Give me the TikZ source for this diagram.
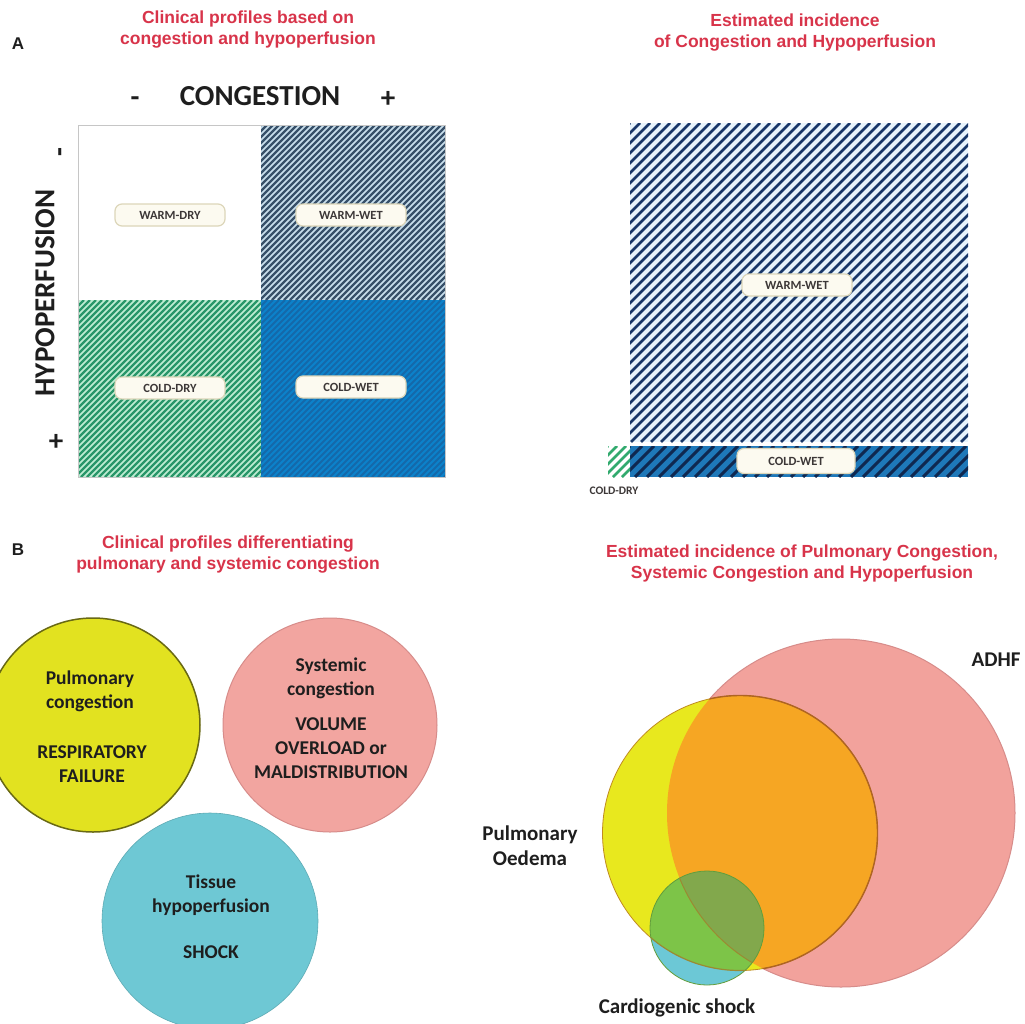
\documentclass[tikz,border=0pt]{standalone}
\usepackage{fontspec}
\setmainfont{Carlito}
\newfontfamily\arialf{Liberation Sans}
\definecolor{titlered}{RGB}{216,52,74}
\definecolor{txt}{RGB}{30,30,30}
\definecolor{cream}{RGB}{252,250,240}
\definecolor{tagline}{RGB}{220,214,185}
\definecolor{tagtext}{RGB}{60,55,55}
\definecolor{bgA}{RGB}{200,222,236}
\definecolor{stA}{RGB}{55,80,105}
\definecolor{bgG}{RGB}{190,236,210}
\definecolor{stG}{RGB}{40,150,105}
\definecolor{bluQ}{RGB}{12,130,202}
\definecolor{stQ}{RGB}{20,105,170}
\definecolor{bgR}{RGB}{232,244,253}
\definecolor{stR}{RGB}{25,55,105}
\definecolor{barB}{RGB}{30,120,185}
\definecolor{stBar}{RGB}{15,40,80}
\definecolor{stSG}{RGB}{50,170,110}
\definecolor{yelL}{RGB}{226,226,32}
\definecolor{yelLine}{RGB}{105,105,20}
\definecolor{pinkL}{RGB}{242,165,160}
\definecolor{pinkLine}{RGB}{215,140,138}
\definecolor{cyanL}{RGB}{110,200,212}
\definecolor{yelV}{RGB}{232,232,30}
\definecolor{pinkV}{RGB}{242,162,156}
\definecolor{oraV}{RGB}{246,166,35}
\definecolor{oraLine}{RGB}{175,100,35}
\definecolor{cyanV}{RGB}{108,200,214}
\definecolor{grnV}{RGB}{125,196,72}
\definecolor{oliV}{RGB}{130,168,76}
\newcommand\hatchrect[7]{%
  \fill[#7] (#1,#2) rectangle (#3,#4);
  \begin{scope}
    \clip (#1,#2) rectangle (#3,#4);
    \pgfmathsetmacro\hh{#4-#2}
    \pgfmathtruncatemacro\nn{(#3-#1+\hh)/#5+1}
    \foreach \i in {0,...,\nn} \draw[#6] ({#1-\hh+\i*#5},#4) -- ++(\hh,-\hh);
  \end{scope}}
\begin{document}
\begin{tikzpicture}[x=1pt,y=-1pt,
  ttl/.style={font=\arialf\bfseries\fontsize{17.5}{21}\selectfont, text=titlered, align=center},
  lett/.style={font=\arialf\bfseries\fontsize{17}{20}\selectfont, text=txt},
  big/.style={font=\bfseries\fontsize{29}{30}\selectfont, text=txt},
  tag/.style={rounded corners=7pt, fill=cream, draw=tagline, line width=1.2pt,
    minimum width=110pt, minimum height=22pt, inner sep=0pt,
    font=\bfseries\fontsize{12.5}{13}\selectfont, text=tagtext},
  ctext/.style={font=\bfseries\fontsize{19.5}{24}\selectfont, text=txt, align=center},
  vtext/.style={font=\bfseries\fontsize{21}{25}\selectfont, text=txt, align=center},
 ]
\path[use as bounding box] (0,0) rectangle (1025,1023);
\clip (0,0) rectangle (1025,1023);
\fill[white] (0,0) rectangle (1025,1023);

% ---------- Panel A left ----------
\node[lett] (labA) at (18,44) {A};
\node[ttl] (tA1) at (248,30) {Clinical profiles based on\\congestion and hypoperfusion};
\node[big, anchor=base] (cm) at (135,106) {-};
\node[big] (cong) at (260,96) {CONGESTION};
\node[big] (cp) at (388,99) {+};
\node[big, rotate=90] (hyp) at (45,293) {HYPOPERFUSION};
\node[big, rotate=90, anchor=base] (hm) at (68,152) {-};
\node[big] (hp) at (56,442) {+};

\fill[white] (78,125) rectangle (261,300);
\hatchrect{261}{125}{445}{300}{6}{stA, line width=2.2pt}{bgA}
\hatchrect{78}{300}{261}{477}{6}{stG, line width=2.2pt}{bgG}
\hatchrect{261}{300}{445}{477}{6}{stQ, line width=2pt}{bluQ}
\draw[gray!45, line width=1pt] (78,125) rectangle (445,477);

\node[tag] (wd) at (170,215) {WARM-DRY};
\node[tag] (ww) at (351,215) {WARM-WET};
\node[tag] (cd) at (170,388) {COLD-DRY};
\node[tag] (cw) at (351,387) {COLD-WET};

% ---------- Panel A right ----------
\node[ttl] (tA2) at (795,33) {Estimated incidence\\of Congestion and Hypoperfusion};
\hatchrect{630}{123}{968}{442}{10}{stR, line width=2.6pt}{bgR}
\hatchrect{630}{446}{968}{477}{12}{stBar, line width=3pt}{barB}
\hatchrect{608}{446}{630}{477}{9}{stSG, line width=2.5pt}{white}
\node[tag] (ww2) at (797,285) {WARM-WET};
\node[tag, minimum width=118pt, minimum height=25pt] (cw2) at (796,461) {COLD-WET};
\node[font=\bfseries\fontsize{11.5}{12}\selectfont, text=tagtext] (cd2) at (614,491) {COLD-DRY};

% ---------- Panel B left ----------
\node[lett] (labB) at (18,550) {B};
\node[ttl] (tB1) at (228,555) {Clinical profiles differentiating\\pulmonary and systemic congestion};
\fill[yelL] (93,725) circle[radius=107pt];
\draw[yelLine, line width=1.5pt] (93,725) circle[radius=107pt];
\fill[pinkL] (330,725) circle[radius=107pt];
\draw[pinkLine, line width=1pt] (330,725) circle[radius=107pt];
\fill[cyanL] (210,921) circle[radius=108pt];
\draw[cyanL!85!black, line width=0.6pt] (210,921) circle[radius=108pt];
\node[ctext] (pc) at (90,691) {Pulmonary\\congestion};
\node[ctext] (rf) at (92,764) {RESPIRATORY\\FAILURE};
\node[ctext] (sc) at (331,678) {Systemic\\congestion};
\node[ctext] (vo) at (331,748) {VOLUME\\OVERLOAD or\\MALDISTRIBUTION};
\node[ctext] (th) at (211,895) {Tissue\\hypoperfusion};
\node[ctext] (sh) at (211,952) {SHOCK};

% ---------- Panel B right ----------
\node[ttl] (tB2) at (802,564) {Estimated incidence of Pulmonary Congestion,\\Systemic Congestion and Hypoperfusion};
\fill[pinkV] (841,813) circle[radius=174pt];
\draw[pinkLine, line width=1pt] (841,813) circle[radius=174pt];
\fill[yelV] (740,833) circle[radius=137.5pt];
\begin{scope}
  \clip (841,813) circle[radius=174pt];
  \fill[oraV] (740,833) circle[radius=137.5pt];
\end{scope}
\draw[oraLine!70!yelV, line width=0.8pt] (740,833) circle[radius=137.5pt];
\begin{scope}
  \clip (841,813) circle[radius=174pt];
  \draw[oraLine, line width=1.4pt] (740,833) circle[radius=137.5pt];
\end{scope}
\fill[cyanV] (707,928) circle[radius=57pt];
\begin{scope}
  \clip (740,833) circle[radius=137.5pt];
  \fill[grnV] (707,928) circle[radius=57pt];
  \clip (841,813) circle[radius=174pt];
  \fill[oliV] (707,928) circle[radius=57pt];
\end{scope}
\draw[grnV!80!black, line width=0.8pt] (707,928) circle[radius=57pt];
\begin{scope}
  \clip (707,928) circle[radius=57pt];
  \draw[oraLine!60!grnV, line width=1pt] (841,813) circle[radius=174pt];
  \draw[oraLine!60!grnV, line width=1.2pt] (740,833) circle[radius=137.5pt];
\end{scope}
\node[vtext, anchor=east] (adhf) at (1024,660) {ADHF};
\node[vtext] (po) at (530,846) {Pulmonary\\Oedema};
\node[vtext] (cs) at (677,1008) {Cardiogenic shock};
\end{tikzpicture}
\end{document}
